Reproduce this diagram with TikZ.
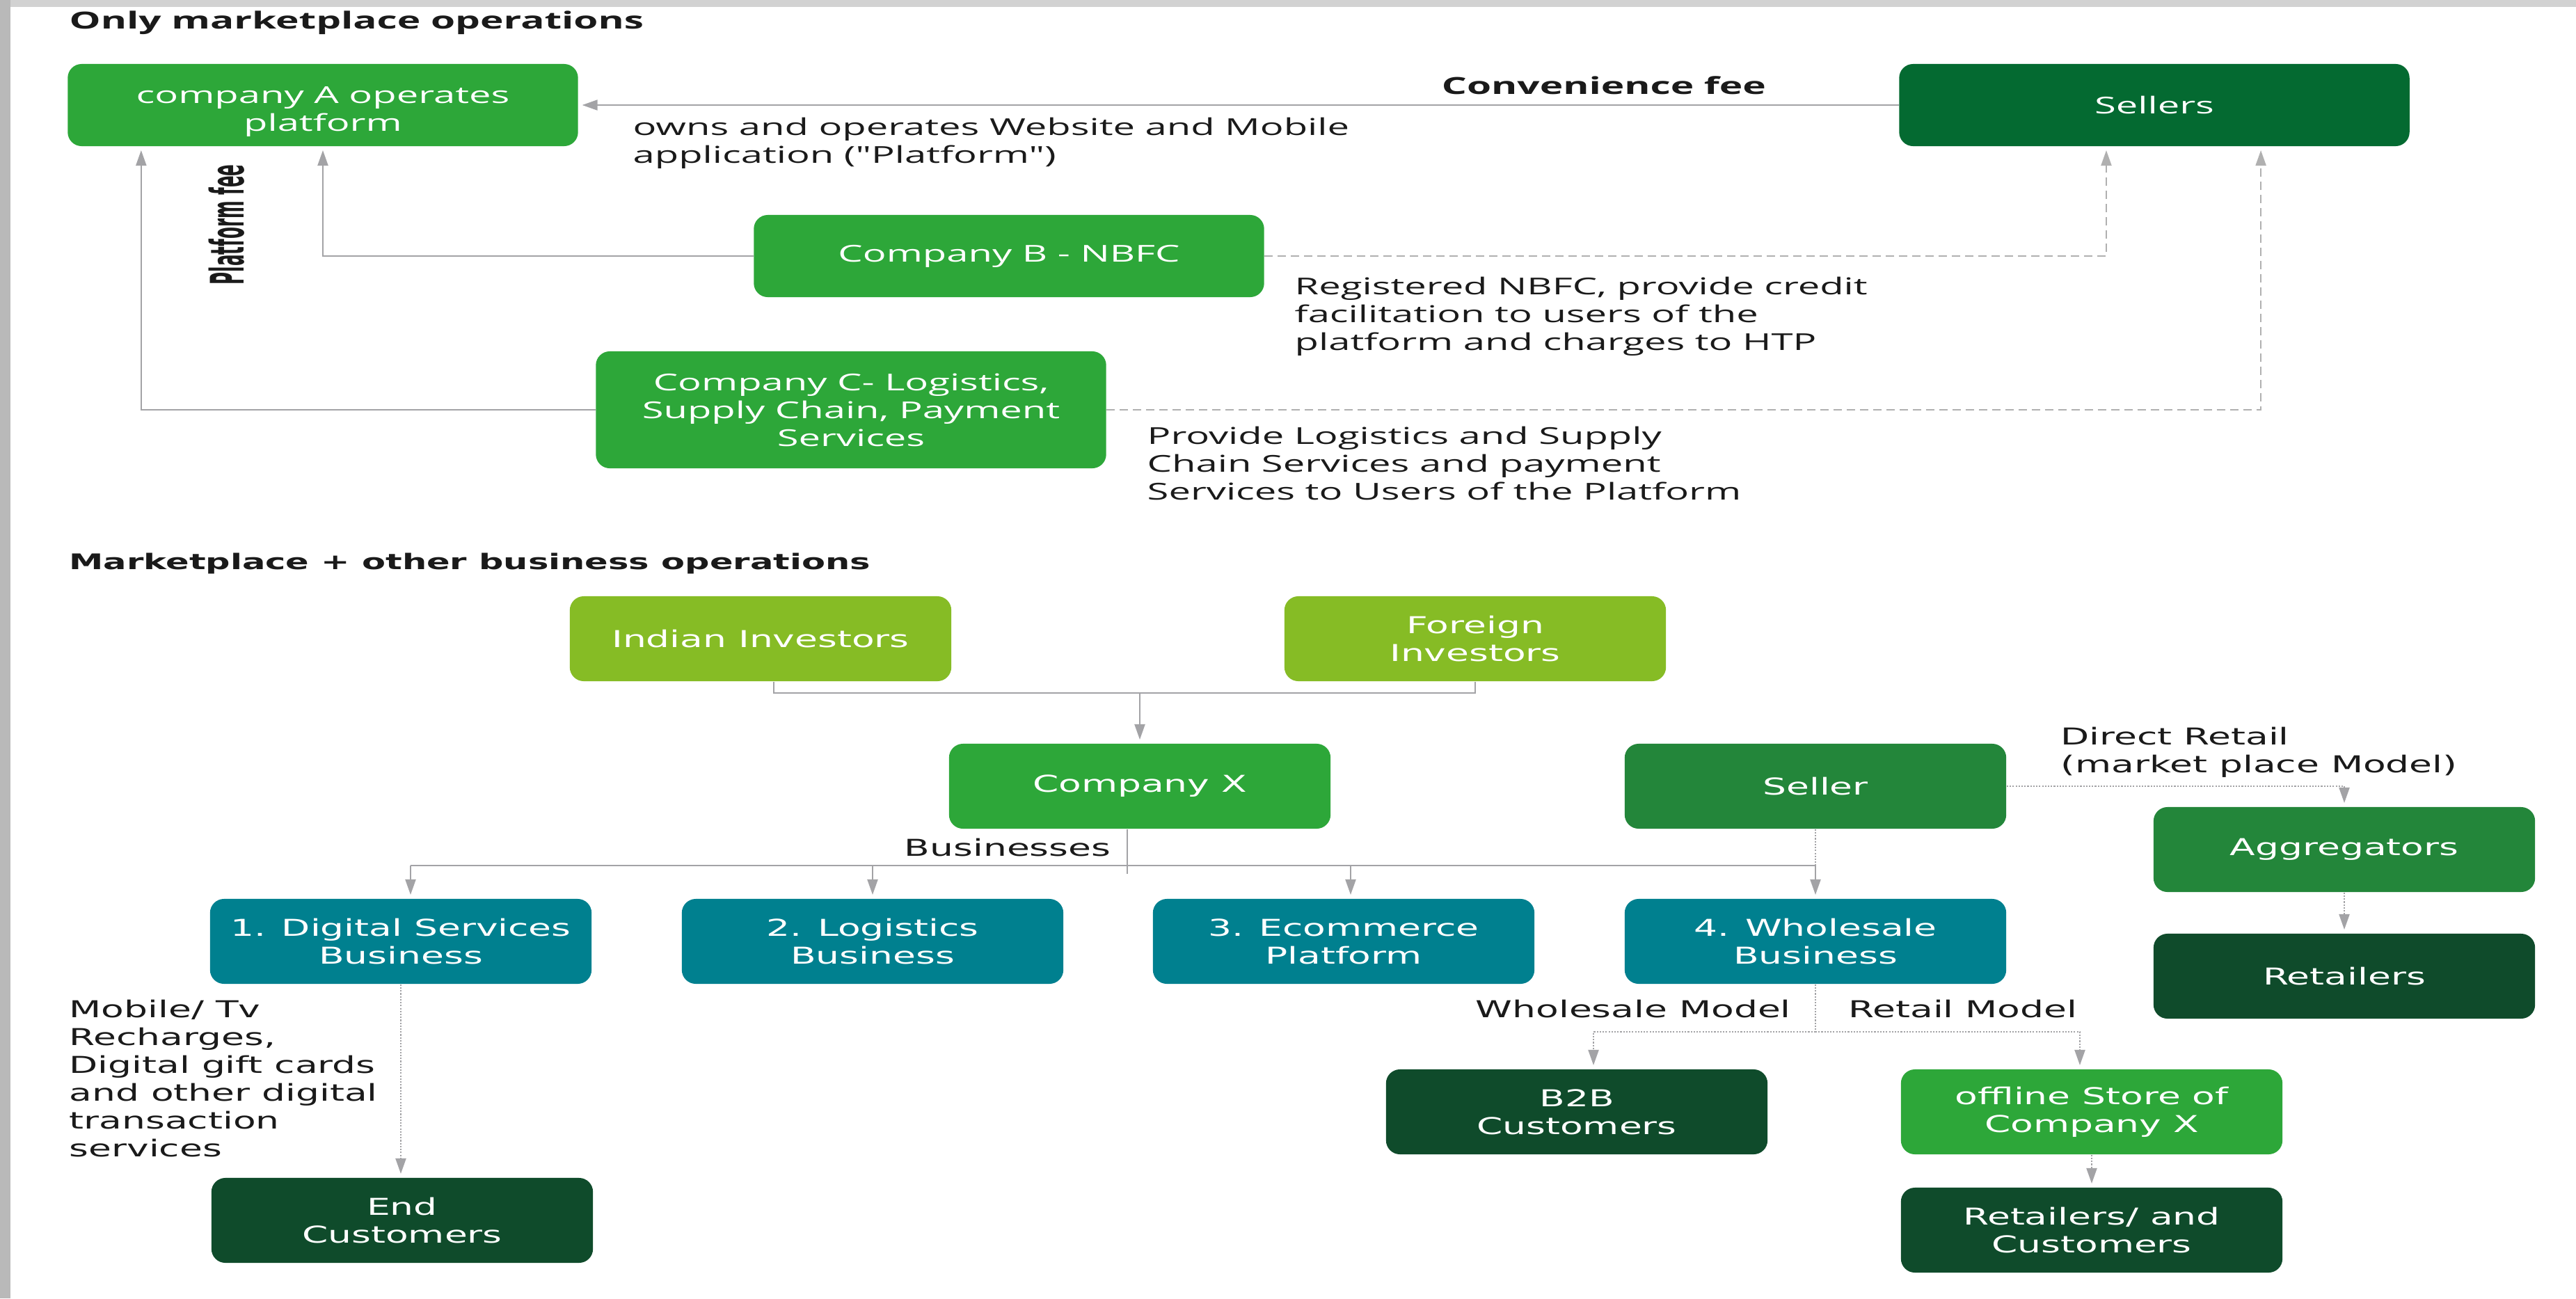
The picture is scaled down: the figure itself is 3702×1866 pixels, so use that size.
\documentclass[tikz,border=0pt]{standalone}
\usepackage{fontspec}
\usetikzlibrary{arrows.meta,positioning}
\newfontfamily\topfont{Open Sans}[FakeStretch=1.68,Ligatures=TeXOff]
\newfontfamily\botfont{DejaVu Sans}[FakeStretch=1.6]
\newfontfamily\rotfont{DejaVu Sans}
\newcommand\txtsize{\fontsize{9.5pt}{11.4pt}\selectfont}
\definecolor{cgreen}{HTML}{2DA739}
\definecolor{cseller}{HTML}{046A31}
\definecolor{cmid}{HTML}{23863A}
\definecolor{clime}{HTML}{86BC25}
\definecolor{cteal}{HTML}{00808F}
\definecolor{cdark}{HTML}{0F4B2B}
\definecolor{cline}{HTML}{A3A3A6}
\definecolor{cdash}{HTML}{B0B0B0}
\definecolor{ctext}{HTML}{1A1A1A}
\tikzset{
	box/.style={rounded corners=0.2cm, text=white, align=center, inner sep=1pt},
	topbox/.style={box, minimum width=7.33cm, minimum height=1.18cm, font=\topfont\txtsize},
	botbox/.style={box, minimum width=5.48cm, minimum height=1.22cm, font=\botfont\txtsize},
	line/.style={draw=cline, line width=0.6pt},
	arr/.style={line, -{Triangle[length=0.22cm,width=0.15cm]}, shorten >=1.5pt},
	dashline/.style={arr, draw=cdash, dash pattern=on 3.4pt off 2pt},
	dotline/.style={line, dash pattern=on 0.6pt off 0.6pt},
	dotarr/.style={arr, dash pattern=on 0.6pt off 0.6pt},
	note/.style={anchor=north west, align=left, inner sep=0pt, text=ctext}
}

\begin{document}
\begin{tikzpicture}[x=0.01cm,y=-0.01cm]
	\useasboundingbox (0,0) rectangle (3702,1866);
	\fill[white] (0,0) rectangle (3702,1866);
	\fill[gray!35] (0,0) rectangle (3702,10);
	\fill[gray!55] (0,0) rectangle (15,1866);

	% only marketplace operations
	\node[note, anchor=west, font=\topfont\bfseries\fontsize{9.6pt}{12pt}\selectfont] (title1) at (99,33) {Only marketplace operations};
	\node[topbox, fill=cgreen] (opA) at (464,151) {\rule{0pt}{0.43cm}company A operates\\platform};
	\node[topbox, fill=cseller] (sellers) at (3096,151) {Sellers};
	\node[topbox, fill=cgreen] (nbfc) at (1450,368) {Company B - NBFC};
	\node[topbox, fill=cgreen, minimum height=1.68cm] (logi) at (1223,589) {Company C- Logistics,\\Supply Chain, Payment\\Services};

	\draw[arr] (sellers) -- (opA);
	\node[font=\topfont\bfseries\fontsize{9.6pt}{12pt}\selectfont, text=ctext] (convfee) at (2305,123) {Convenience fee};
	\node[note, font=\topfont\txtsize] (ownsnote) at (909,168) {owns and operates Website and Mobile\\application ("Platform")};
	\draw[arr] (nbfc.west) -| (opA.south);
	\draw[arr] (logi.west) -| ([xshift=-2.61cm]opA.south);
	\node[rotate=90, text=ctext, font=\rotfont\bfseries\fontsize{7pt}{8pt}\selectfont] (pfee) at (326,323) {\scalebox{1}[2.7]{Platform fee}};
	\draw[dashline] (nbfc.east) -| ([xshift=-0.69cm]sellers.south);
	\draw[dashline] (logi.east) -| ([xshift=1.53cm]sellers.south);
	\node[note, font=\topfont\txtsize] (nbfcnote) at (1860,397) {Registered NBFC, provide credit\\facilitation to users of the\\platform and charges to HTP};
	\node[note, font=\topfont\txtsize] (logisnote) at (1648,612) {Provide Logistics and Supply\\Chain Services and payment\\Services to Users of the Platform};

	% marketplace + other business operations
	\node[note, anchor=west, font=\botfont\bfseries\fontsize{8.8pt}{10pt}\selectfont] (title2) at (99,810) {Marketplace + other business operations};
	\node[botbox, fill=clime] (indian) at (1093,918) {Indian Investors};
	\node[botbox, fill=clime] (foreign) at (2120,918) {Foreign\\Investors};
	\node[botbox, fill=cgreen] (compx) at (1638,1130) {Company X};
	\node[botbox, fill=cmid] (seller) at (2609,1130) {Seller};
	\node[botbox, fill=cteal] (biz1) at (576,1353) {1. Digital Services\\Business};
	\node[botbox, fill=cteal] (biz2) at (1254,1353) {2. Logistics\\Business};
	\node[botbox, fill=cteal] (biz3) at (1931,1353) {3. Ecommerce\\Platform};
	\node[botbox, fill=cteal] (biz4) at (2609,1353) {4. Wholesale\\Business};
	\node[botbox, fill=cmid] (aggr) at (3369,1221) {Aggregators};
	\node[botbox, fill=cdark] (retail) at (3369,1403) {Retailers};
	\node[botbox, fill=cdark] (b2b) at (2266,1598) {B2B\\Customers};
	\node[botbox, fill=cgreen] (offline) at (3006,1598) {offline Store of\\Company X};
	\node[botbox, fill=cdark] (retcust) at (3006,1768) {Retailers/ and\\Customers};
	\node[botbox, fill=cdark] (endcust) at (578,1754) {End\\Customers};

	\coordinate (inv) at (1638,996);
	\draw[line] ([xshift=0.19cm]indian.south) |- (inv) -| (foreign.south);
	\draw[arr] (inv) -- (compx.north);

	\coordinate (bar) at (1620,1244);
	\draw[line] (bar |- compx.south) -- ++(0,64);
	\draw[line] ([xshift=0.14cm]biz1.north |- bar) -- (biz4 |- bar);
	\draw[arr] ([xshift=0.14cm]biz1.north |- bar) -- ([xshift=0.14cm]biz1.north);
	\draw[arr] (biz2 |- bar) -- (biz2.north);
	\draw[arr] ([xshift=0.1cm]biz3.north |- bar) -- ([xshift=0.1cm]biz3.north);
	\draw[arr] (biz4 |- bar) -- (biz4.north);
	\draw[dotline] (seller.south) -- (seller |- bar);
	\node[note, anchor=east, font=\botfont\txtsize] (buslabel) at (1597,1218) {Businesses};

	\draw[dotarr] (seller.east) -| (aggr.north);
	\node[note, font=\botfont\txtsize] (directnote) at (2961,1044) {Direct Retail\\(market place Model)};
	\draw[dotarr] (aggr.south) -- (retail.north);

	\coordinate (split) at (2609,1483);
	\draw[dotline] (biz4.south) -- (split);
	\draw[dotarr] (split) -| ([xshift=0.24cm]b2b.north);
	\draw[dotarr] (split) -| ([xshift=-0.17cm]offline.north);
	\node[note, anchor=west, font=\botfont\txtsize] (wsmodel) at (2120,1450) {Wholesale Model};
	\node[note, anchor=west, font=\botfont\txtsize] (rtmodel) at (2656,1450) {Retail Model};
	\draw[dotarr] (offline.south) -- (retcust.north);

	\draw[dotarr] (biz1.south) -- (biz1.south |- endcust.north);
	\node[note, font=\botfont\txtsize] (digitalnote) at (99,1436) {Mobile/ Tv\\Recharges,\\Digital gift cards\\and other digital\\transaction\\services};
\end{tikzpicture}
\end{document}
